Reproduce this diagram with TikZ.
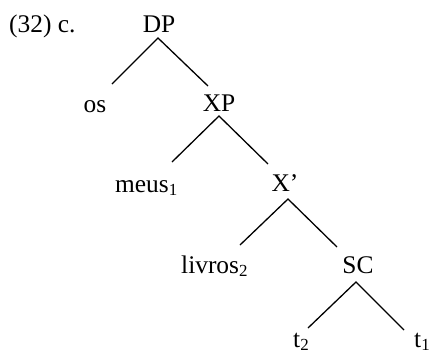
\documentclass[tikz,border=0pt]{standalone}
\usepackage{fontspec}
\setmainfont{Liberation Serif}
\newcommand{\sbs}[1]{\raisebox{-3.5bp}{\fontsize{17}{17}\selectfont #1}}
\begin{document}
\begin{tikzpicture}[x=1bp,y=-1bp,
  lbl/.style={font=\fontsize{25.5}{30}\selectfont, inner sep=0pt, anchor=base},
  lblw/.style={lbl, anchor=base west},
  branch/.style={line width=1.3bp}]
\useasboundingbox (0,0) rectangle (431,353);
\node[lblw] (ex) at (9,32) {(32) c.};
\node[lbl] (DP) at (159,32) {DP};
\node[lbl] (os) at (95,112) {os};
\node[lbl] (XP) at (219,111) {XP};
\node[lblw] (meus) at (115,192) {meus\sbs{1}};
\node[lbl] (Xbar) at (285,191) {X’};
\node[lblw] (livros) at (181,273) {livros\sbs{2}};
\node[lbl] (SC) at (358,273) {SC};
\node[lblw] (t2) at (293,347) {t\sbs{2}};
\node[lblw] (t1) at (414,347) {t\sbs{1}};
% branch points
\coordinate (DPa) at (158,38);
\coordinate (osa) at (112,84);
\coordinate (XPt) at (208,86);
\coordinate (XPa) at (219,116);
\coordinate (meusa) at (172,162);
\coordinate (Xbart) at (268,164);
\coordinate (Xbara) at (288,199);
\coordinate (livrosa) at (240,245);
\coordinate (SCt) at (337,247);
\coordinate (SCa) at (356,282);
\coordinate (t2a) at (308,328);
\coordinate (t1a) at (404,330);
\draw[branch] (osa) -- (DPa) -- (XPt);
\draw[branch] (meusa) -- (XPa) -- (Xbart);
\draw[branch] (livrosa) -- (Xbara) -- (SCt);
\draw[branch] (t2a) -- (SCa) -- (t1a);
\end{tikzpicture}
\end{document}
